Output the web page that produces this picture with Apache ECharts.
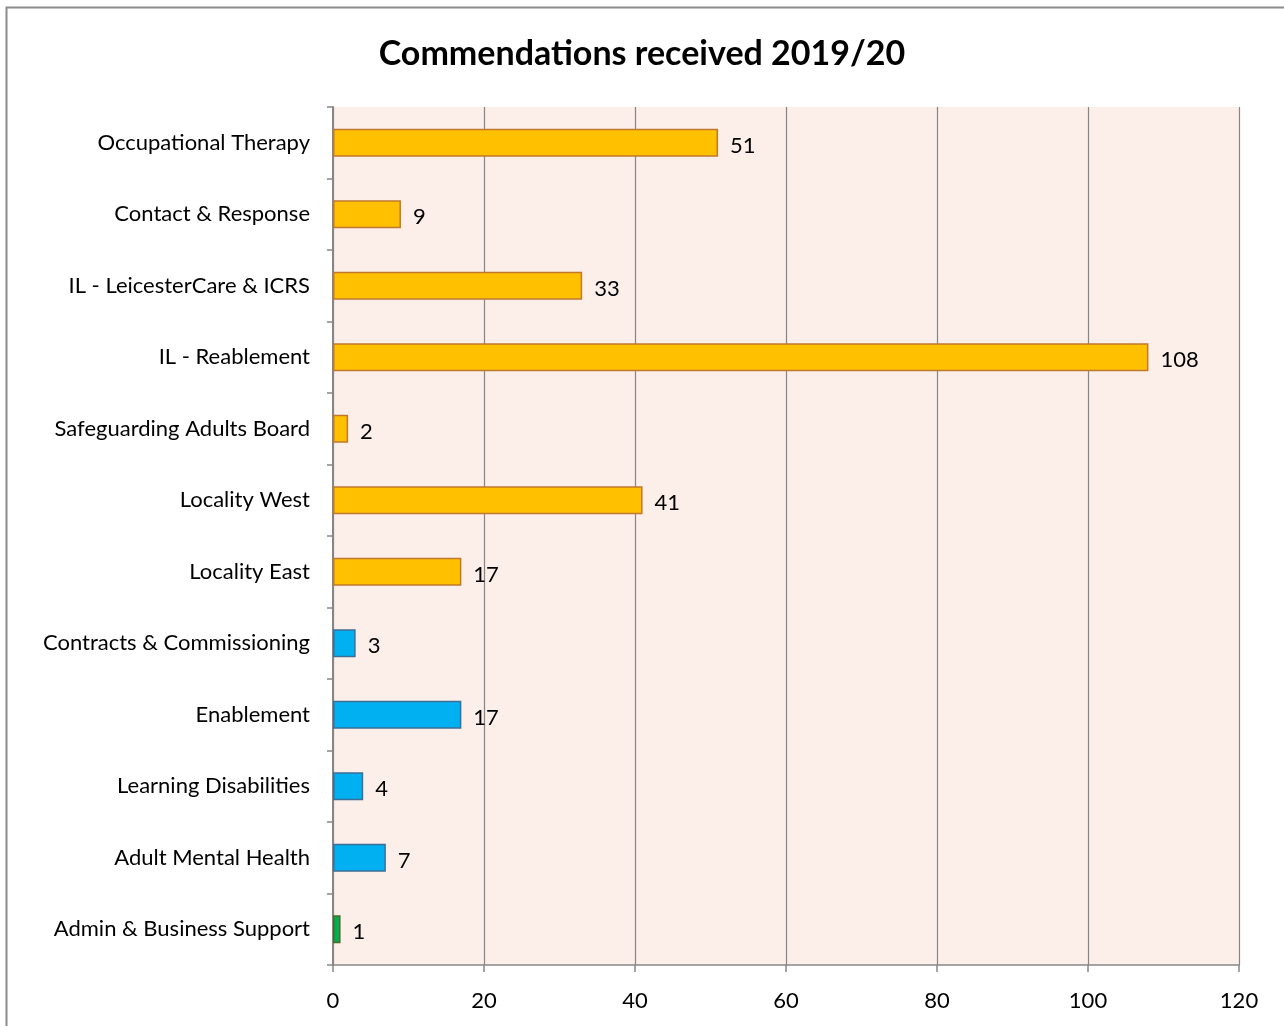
<!DOCTYPE html>
<html>
<head>
<meta charset="utf-8">
<script src="https://cdn.jsdelivr.net/npm/echarts@6/dist/echarts.min.js"></script>
<style>
  html, body { margin: 0; padding: 0; background: #fff; }
  #chart { width: 1284px; height: 1026px; }
</style>
</head>
<body>
<div id="chart"></div>
<script>
// Teams, top to bottom
const categories = [
  'Occupational Therapy',
  'Contact & Response',
  'IL - LeicesterCare & ICRS',
  'IL - Reablement',
  'Safeguarding Adults Board',
  'Locality West',
  'Locality East',
  'Contracts & Commissioning',
  'Enablement',
  'Learning Disabilities',
  'Adult Mental Health',
  'Admin & Business Support'
];
// Commendations received per team
const values = [51, 9, 33, 108, 2, 41, 17, 3, 17, 4, 7, 1];
// Division each team belongs to (drives bar colour)
const divisions = ['a', 'a', 'a', 'a', 'a', 'a', 'a', 'b', 'b', 'b', 'b', 'c'];
const xTicks = [0, 20, 40, 60, 80, 100, 120];

const palette = {
  a: { fill: '#FFC000', edge: '#C0782E' },
  b: { fill: '#00B0F0', edge: '#3E6E96' },
  c: { fill: '#00B050', edge: '#4A6A2C' }
};

const FONT = 'Lato, "Open Sans", sans-serif';

const chart = echarts.init(document.getElementById('chart'));
chart.setOption({
  animation: false,
  backgroundColor: '#ffffff',
  graphic: [{
    type: 'rect',
    shape: { x: 6.5, y: 7.5, width: 1300, height: 1100 },
    style: { fill: 'none', stroke: '#8c8c8c', lineWidth: 2 },
    silent: true
  }],
  title: {
    text: 'Commendations received 2019/20',
    left: 'center',
    top: 32,
    textStyle: { fontFamily: FONT, fontWeight: 'bold', fontSize: 34, color: '#000' }
  },
  grid: {
    left: 333, right: 45, top: 107, bottom: 61,
    show: true, backgroundColor: '#FCEEE9', borderWidth: 0
  },
  xAxis: {
    type: 'value',
    min: xTicks[0],
    max: xTicks[xTicks.length - 1],
    interval: xTicks[1] - xTicks[0],
    axisLine: { show: true, lineStyle: { color: '#868686', width: 1.5 } },
    axisTick: { show: true, length: 7, lineStyle: { color: '#868686', width: 1.5 } },
    splitLine: { show: true, lineStyle: { color: '#868686', width: 1.2 } },
    axisLabel: { margin: 25, fontFamily: FONT, fontSize: 22, color: '#000' }
  },
  yAxis: {
    type: 'category',
    inverse: true,
    data: categories,
    axisLine: { show: true, lineStyle: { color: '#868686', width: 2 } },
    axisTick: { show: true, length: 6, lineStyle: { color: '#868686', width: 1.5 } },
    axisLabel: { margin: 23, fontFamily: FONT, fontSize: 22, color: '#000', padding: [3, 0, 0, 0] }
  },
  series: [{
    type: 'bar',
    barWidth: 28,
    data: values.map((v, i) => ({
      value: v,
      itemStyle: {
        color: palette[divisions[i]].fill,
        borderColor: palette[divisions[i]].edge,
        borderWidth: 1.5
      }
    })),
    label: {
      show: true,
      position: 'right',
      distance: 12,
      offset: [0, 3],
      fontFamily: FONT,
      fontSize: 22,
      color: '#000'
    }
  }]
});
</script>
</body>
</html>
